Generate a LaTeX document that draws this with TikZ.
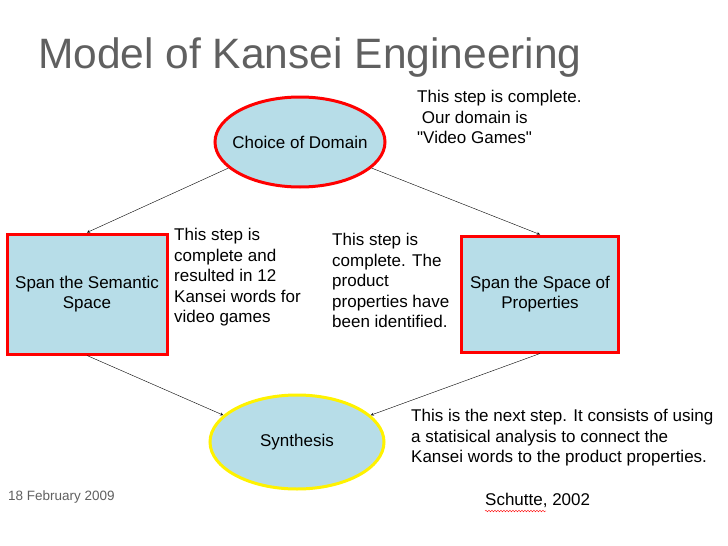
\documentclass[tikz,border=0pt]{standalone}
\usepackage{fontspec}
\setmainfont{Liberation Sans}
\newfontfamily\plainfont{Liberation Sans}
\usetikzlibrary{shapes.geometric,decorations.pathmorphing}
\definecolor{boxblue}{HTML}{B7DDE8}
\definecolor{titlegray}{HTML}{606060}
\tikzset{
	stage/.style={fill=boxblue,draw=red,line width=3pt,align=center,inner sep=0pt,font=\fontsize{17}{20}\selectfont},
	note/.style={anchor=north west,align=left,inner sep=0pt,font=\fontsize{17}{20.5}\selectfont},
	flow/.style={->,>=stealth,thin}
}
\begin{document}
\begin{tikzpicture}[x=1pt,y=-1pt]
	\useasboundingbox (0,0) rectangle (728,546);

	\node[anchor=west,inner sep=0pt,text=titlegray,font=\fontsize{42.5}{46}\selectfont] (title) at (38,58) {Model of Kansei Engineering};

	\node[stage,ellipse,minimum width=170pt,minimum height=90pt] (domain) at (300,142) {\makebox[0pt]{Choice of Domain}};
	\node[stage,minimum width=160pt,minimum height=120pt] (semantic) at (87,294) {Span the Semantic\\Space};
	\node[stage,minimum width=157pt,minimum height=116pt] (props) at (540,294) {Span the Space of\\Properties};
	\node[stage,ellipse,draw=yellow,minimum width=174pt,minimum height=94pt] (synth) at (297,442) {\makebox[0pt]{Synthesis}};

	\draw[flow](domain.200)--(semantic.north);
	\draw[flow](domain.-20)--(props.north);
	\draw[flow](semantic.south)--(synth.160);
	\draw[flow](props.south)--(synth.20);

	\node[note] (n1) at (417,90) {This step is complete.\\ \ Our domain is\\{\plainfont"Video Games"}};
	\node[note] (n2) at (174,228) {This step is\\complete and\\resulted in 12\\Kansei words for\\video games};
	\node[note] (n3) at (332,233) {This step is\\complete. The\\product\\properties have\\been identified.};
	\node[note] (n4) at (411,409) {This is the next step. It consists of using\\a statisical analysis to connect the\\Kansei words to the product properties.};

	\node[anchor=west,inner sep=0pt,font=\fontsize{13.5}{15}\selectfont,text=titlegray] (date) at (8,497) {18 February 2009};
	\node[anchor=west,inner sep=0pt,font=\fontsize{17}{20}\selectfont] (cite) at (485,500) {Schutte, 2002};
	\draw[red,decorate,decoration={snake,amplitude=0.8pt,segment length=3pt}] (485,511)--(546,511);
\end{tikzpicture}
\end{document}
